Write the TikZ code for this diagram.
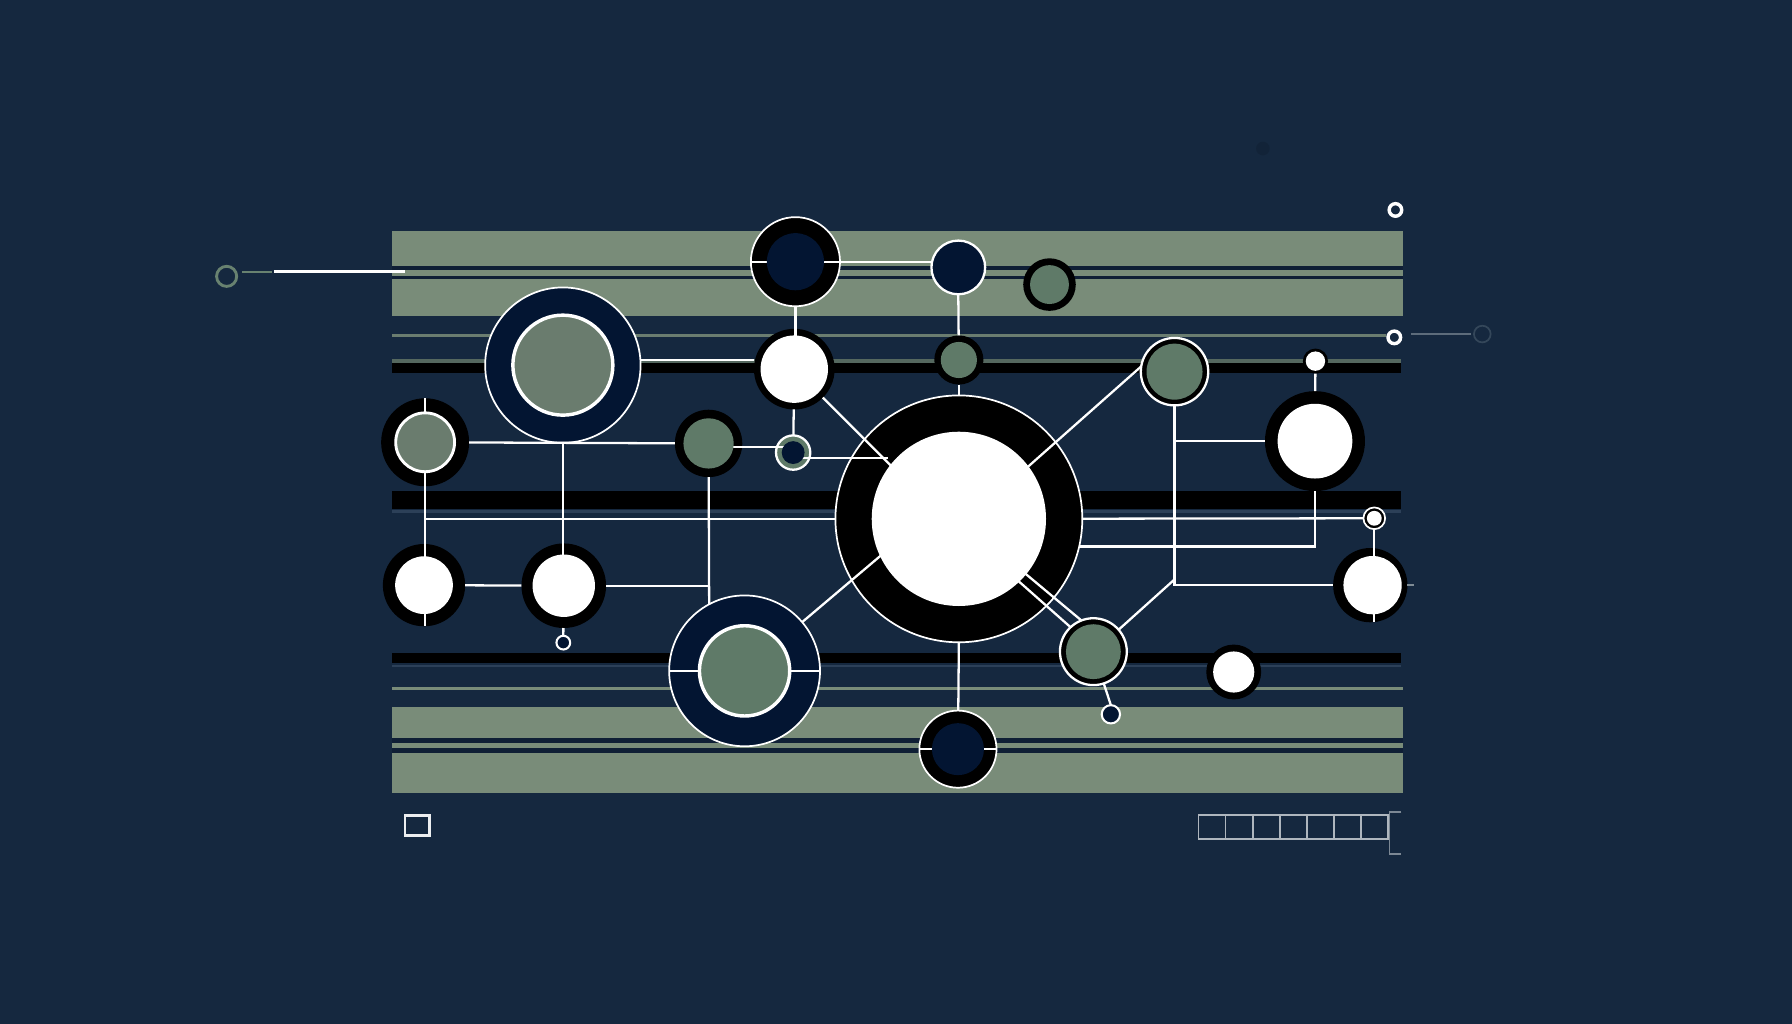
\documentclass[tikz,border=0pt]{standalone}
\definecolor{bg}{HTML}{15283F}
\definecolor{barg}{HTML}{798C79}
\definecolor{darkstrip}{HTML}{0F1F35}
\definecolor{navy}{HTML}{031532}
\definecolor{grA}{HTML}{6A7C6E}
\definecolor{grB}{HTML}{5F7A68}
\definecolor{faint}{HTML}{2C4058}
\definecolor{thing}{HTML}{55685F}
\definecolor{tickgray}{HTML}{7F8C95}
\definecolor{sqgray}{HTML}{AEB6BE}
\definecolor{brgray}{HTML}{7C8894}
\definecolor{ygray}{HTML}{34475A}
\definecolor{agreen}{HTML}{688270}
\begin{document}
\begin{tikzpicture}[x=1pt,y=-1pt,
  circ/.style={circle,inner sep=0pt,outer sep=0pt,minimum size=#1},
  conn/.style={draw=white,line width=2pt},
]
\fill[bg] (0,0) rectangle (1568,896);
\useasboundingbox (0,0) rectangle (1568,896);

% faint smudge
\fill[black,opacity=0.1] (1105,130) circle (6);

% ---- bars ----
\fill[barg] (343,202.5) rectangle (1228,232.5);
\fill[darkstrip] (343,232.5) rectangle (1228,244.5);
\fill[barg] (343,236.3) rectangle (1228,241.2);
\fill[barg] (343,244.5) rectangle (1228,276.2);
\fill[barg!85!bg] (343,292) rectangle (1213,295);
\fill[thing] (343,314.5) rectangle (1226,317.5);
\fill[black] (343,317.5) rectangle (1226,326.5);
\fill[black] (343,430) rectangle (1226,445);
\fill[faint] (343,446.5) rectangle (1226,448.5);
\fill[black] (343,571) rectangle (1226,580.5);
\fill[faint] (343,582) rectangle (1226,584);
\fill[barg] (343,600.8) rectangle (1228,603.4);
\fill[barg] (343,618.3) rectangle (1228,646);
\fill[darkstrip] (343,646) rectangle (1228,658.6);
\fill[barg] (343,650.4) rectangle (1228,654.8);
\fill[barg] (343,658.6) rectangle (1228,694.2);

% ---- free decorations ----
\node[circ=17.6pt, draw=agreen, line width=2.5pt] (A) at (198.3,241.8) {};
\coordinate (a1) at (212,237.7);
\coordinate (a2) at (238,237.7);
\coordinate (a3) at (240,237.5);
\coordinate (a4) at (354,237.5);
\draw[agreen, line width=2pt] (a1) -- (a2);
\draw[white, line width=3pt] (a3) -- (a4);

\node[circ=11pt, draw=white, line width=3pt, fill=bg] (W) at (1221,183.7) {};
\node[circ=11pt, draw=white, line width=3pt, fill=bg] (X) at (1220,295.2) {};
\node[circ=14.6pt, draw=ygray, line width=1.5pt] (Y) at (1297,292.3) {};
\coordinate (x1) at (1234.6,292.5);
\coordinate (x2) at (1286.8,292.5);
\draw[ygray!80!white, line width=1.5pt] (x1) -- (x2);

\draw[white!92!bg, line width=2.2pt] (354.5,713.5) rectangle (376,731);
\foreach \i in {0,...,6}{
  \draw[sqgray, line width=1.5pt] (1048.7+\i*23.7,713) rectangle ++(23.7,21.4);
}
\draw[brgray, line width=1.5pt] (1226.2,710.8) -- (1215.7,710.8) -- (1215.7,747.3) -- (1226.2,747.3);

% ---- outer circles ----
\node[circ=136pt, fill=navy, draw=white, line width=1.5pt] (B) at (492.5,319.5) {};
\node[circ=77pt, fill=black] (C) at (372,387) {};
\node[circ=59pt, fill=black] (E) at (620,388) {};
\node[circ=30pt, fill=grB, draw=white, line width=2pt] (E2) at (694,396) {};
\node[circ=70.6pt, fill=black] (F) at (695,323) {};
\node[circ=78pt, fill=black, draw=white, line width=1.5pt] (I) at (696,229) {};
\node[circ=47pt, fill=navy, draw=white, line width=2pt] (J) at (838.5,234) {};
\node[circ=43pt, fill=black] (K) at (839,315) {};
\node[circ=46pt, fill=black] (L) at (918.3,249) {};
\node[circ=216pt, fill=black, draw=white, line width=1.5pt] (Z) at (839,454) {};
\node[circ=59pt, fill=black, draw=white, line width=2pt] (O) at (1027.7,325.2) {};
\node[circ=22pt, fill=black] (M) at (1151,316) {};
\node[circ=87.5pt, fill=black] (N) at (1150.6,386) {};
\node[circ=19pt, fill=black, draw=white, line width=1.5pt] (M2) at (1202.5,453.5) {};
\node[circ=65pt, fill=black] (P) at (1199,512) {};
\node[circ=58.5pt, fill=black, draw=white, line width=2pt] (Q) at (956.7,570.2) {};
\node[circ=16pt, fill=navy, draw=white, line width=1.8pt] (S) at (972,625) {};
\node[circ=67.5pt, fill=black, draw=white, line width=1.5pt] (R) at (838.2,655.5) {};
\node[circ=48pt, fill=black] (T) at (1079.5,588) {};
\node[circ=132pt, fill=navy, draw=white, line width=1.5pt] (H) at (651.5,587) {};
\node[circ=72pt, fill=black] (G) at (371,512) {};
\node[circ=74pt, fill=black] (G2) at (493.3,512.5) {};
\node[circ=12pt, fill=navy, draw=white, line width=1.8pt] (U) at (492.9,562.3) {};

% ---- connectors ----
\coordinate (b1) at ([yshift=4.5pt]B.east);
\draw[conn] (b1) -- (F.west |- b1);
\draw[conn] (B) -- (B |- G2);
\draw[conn] (C) -- (E);
\draw[conn] (C.north) -- (C.north |- G.south);
\draw[conn] (C |- Z) -- (Z);
\draw[conn] (Z) -- (M2);
\draw[conn] (G) -- (G2);
\draw[conn] (G2) -- (E |- G2);
\draw[conn] (E) -- (H.118);
\draw[conn] ([yshift=-3.4pt]E.center) -- ([yshift=4.6pt]E2.center);
\coordinate (e2z) at (777,400.5);
\draw[conn] ([yshift=-4.5pt]E2.center) -- (e2z);
\draw[conn] (I.west) -- (J.west |- I.west);
\draw[conn] (I) -- (I |- F);
\draw[conn] (F) -- (E2);
\coordinate (fz) at (782,410);
\draw[conn] (F) -- (fz);
\draw[conn] (J.south) -- (K);
\draw[conn] (K) -- (Z.north);
\coordinate (oz) at (898,409.7);
\draw[conn] (O.171) -- (oz);
\draw[conn] (Z.south) -- (R);
\draw[conn] (R.west) -- (R.east);
\coordinate (hz) at (772,485);
\draw[conn] (H) -- (hz);
\draw[conn] (H.west) -- (H.east);
\draw[conn] (H) -- (H.south);
\coordinate (zq1) at (896.2,501.1);
\coordinate (zq2) at (889.5,507);
\draw[conn] (zq1) -- (Q.111);
\draw[conn] (zq2) -- (Q.133);
\draw[conn] (O) -- (O |- P) -- (P);
\draw[conn] (O |- N) -- (N);
\draw[conn] (Z.-13.2) -- (Z.-13.2 -| N) -- (N);
\draw[conn] (M) -- (N);
\draw[conn] (M2) -- (M2 |- P.south);
\coordinate (oq) at (1027.7,507);
\draw[conn] (oq) -- (Q.41);
\draw[conn] (Q) -- (S.north);
\draw[conn] (G2) -- (U.north);
\draw[tickgray, line width=1.5pt] (P.east) -- ++(6,0);

% ---- inner circles ----
\node[circ=87.5pt, fill=grA, draw=white, line width=3pt] (Bi) at (B) {};
\node[circ=51.5pt, fill=grA, draw=white, line width=2.5pt] (Ci) at (C) {};
\node[circ=44pt, fill=grB] (Ei) at (E) {};
\node[circ=20pt, fill=navy] (E2i) at (E2) {};
\node[circ=59pt, fill=white] (Fi) at (F) {};
\node[circ=50pt, fill=navy] (Ii) at (I) {};
\node[circ=31.6pt, fill=grB] (Ki) at (K) {};
\node[circ=34pt, fill=grB] (Li) at (L) {};
\node[circ=152.5pt, fill=white] (Zi) at (Z) {};
\node[circ=49pt, fill=grB] (Oi) at (O) {};
\node[circ=17pt, fill=white] (Mi) at (M) {};
\node[circ=65.4pt, fill=white] (Ni) at (N) {};
\node[circ=13pt, fill=white] (M2i) at (M2) {};
\node[circ=51pt, fill=white] (Pi) at (1201,512) {};
\node[circ=48pt, fill=grB] (Qi) at (Q) {};
\node[circ=45.5pt, fill=navy] (Ri) at (R) {};
\node[circ=36pt, fill=white] (Ti) at (T) {};
\node[circ=79pt, fill=grB, draw=white, line width=3pt] (Hi) at (H) {};
\node[circ=50.5pt, fill=white] (Gi) at (G) {};
\node[circ=54.6pt, fill=white] (G2i) at (G2) {};
\end{tikzpicture}
\end{document}
